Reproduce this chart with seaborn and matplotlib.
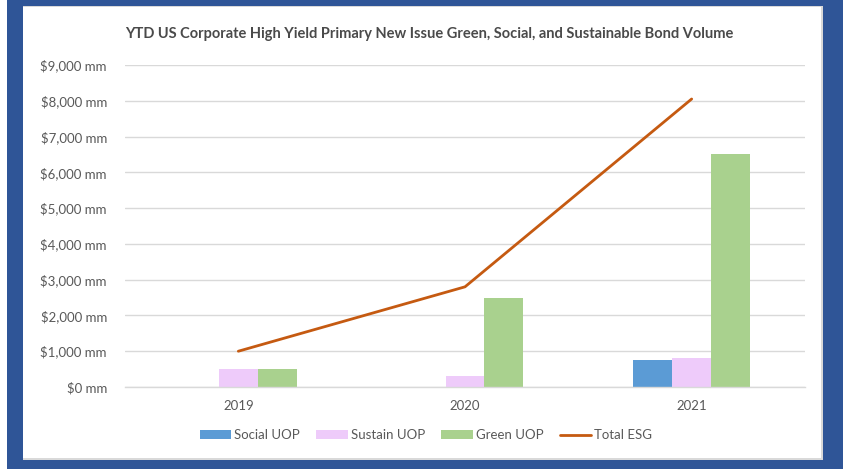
import matplotlib
matplotlib.use("Agg")
import matplotlib.pyplot as plt
import seaborn as sns
import numpy as np
import pandas as pd
from matplotlib.patches import Rectangle

# Data
years = ["2019", "2020", "2021"]
social_uop = [0, 0, 750]
sustain_uop = [500, 300, 800]
green_uop = [500, 2500, 6500]
total_esg = [1000, 2800, 8050]
series_names = ["Social UOP", "Sustain UOP", "Green UOP"]
line_name = "Total ESG"
yticks = [0, 1000, 2000, 3000, 4000, 5000, 6000, 7000, 8000, 9000]
title = "YTD US Corporate High Yield Primary New Issue Green, Social, and Sustainable Bond Volume"

colors = ["#5B9BD5", "#EECBFA", "#A9D18E"]
line_color = "#C55A11"
text_color = "#595959"
grid_color = "#D9D9D9"
frame_blue = "#2F5597"

df = pd.DataFrame({
    "Year": years * 3,
    "Series": [s for s in series_names for _ in years],
    "Value": social_uop + sustain_uop + green_uop,
})

sns.set_theme(style="white")
plt.rcParams["font.family"] = ["Lato", "DejaVu Sans"]

fig = plt.figure(figsize=(8.43, 4.69), dpi=100)
fig.patch.set_facecolor("white")
W, H = 843, 469
# blue frame
fig.patches.append(Rectangle((7 / W, 0), (W - 7) / W, 1, transform=fig.transFigure,
                             facecolor=frame_blue, edgecolor="none", zorder=-10))
# white panel with light gray edge
fig.patches.append(Rectangle((23 / W, 1 - 460 / H), (823 - 23) / W, (460 - 6) / H,
                             transform=fig.transFigure, facecolor="#D9D9D9",
                             edgecolor="none", zorder=-9))
fig.patches.append(Rectangle((23 / W, 1 - 458 / H), (821 - 23) / W, (458 - 7) / H,
                             transform=fig.transFigure, facecolor="white",
                             edgecolor="none", zorder=-8))

ax = fig.add_axes([125 / W, 1 - 387 / H, (805 - 125) / W, (387 - 65) / H])
ax.set_facecolor("none")

sns.barplot(data=df, x="Year", y="Value", hue="Series", hue_order=series_names,
            palette=colors, width=0.516, ax=ax, saturation=1, edgecolor="none",
            legend=True)
sns.lineplot(x=np.arange(len(years)), y=total_esg, color=line_color, linewidth=2,
             ax=ax, label=line_name)

ax.set_ylim(0, 9000)
ax.set_xlim(-0.5, 2.5)
ax.set_yticks(yticks)
ax.set_yticklabels([f"${v:,} mm" for v in yticks], fontsize=9.5, color=text_color)
ax.set_xticks(range(len(years)))
ax.set_xticklabels(years, fontsize=9.5, color=text_color)
ax.tick_params(axis="both", length=0)
ax.tick_params(axis="y", pad=13)
ax.tick_params(axis="x", pad=9)
ax.set_xlabel("")
ax.set_ylabel("")
ax.grid(axis="y", color=grid_color, linewidth=1)
ax.set_axisbelow(True)
for s in ["top", "right", "left"]:
    ax.spines[s].set_visible(False)
ax.spines["bottom"].set_color(grid_color)
ax.spines["bottom"].set_linewidth(1)

handles, labels = ax.get_legend_handles_labels()
ax.legend(handles, labels, loc="center", bbox_to_anchor=(426 / W, 1 - 435 / H),
          bbox_transform=fig.transFigure, ncol=4, frameon=False, fontsize=9.5,
          labelcolor=text_color, handlelength=2.4, handleheight=0.6,
          columnspacing=1.2, handletextpad=0.25)

fig.text(429 / W, 1 - 34 / H, title, ha="center", va="center", fontsize=10.5,
         fontweight="bold", color="#4A4A4A")

fig.savefig("out.png", dpi=100)
